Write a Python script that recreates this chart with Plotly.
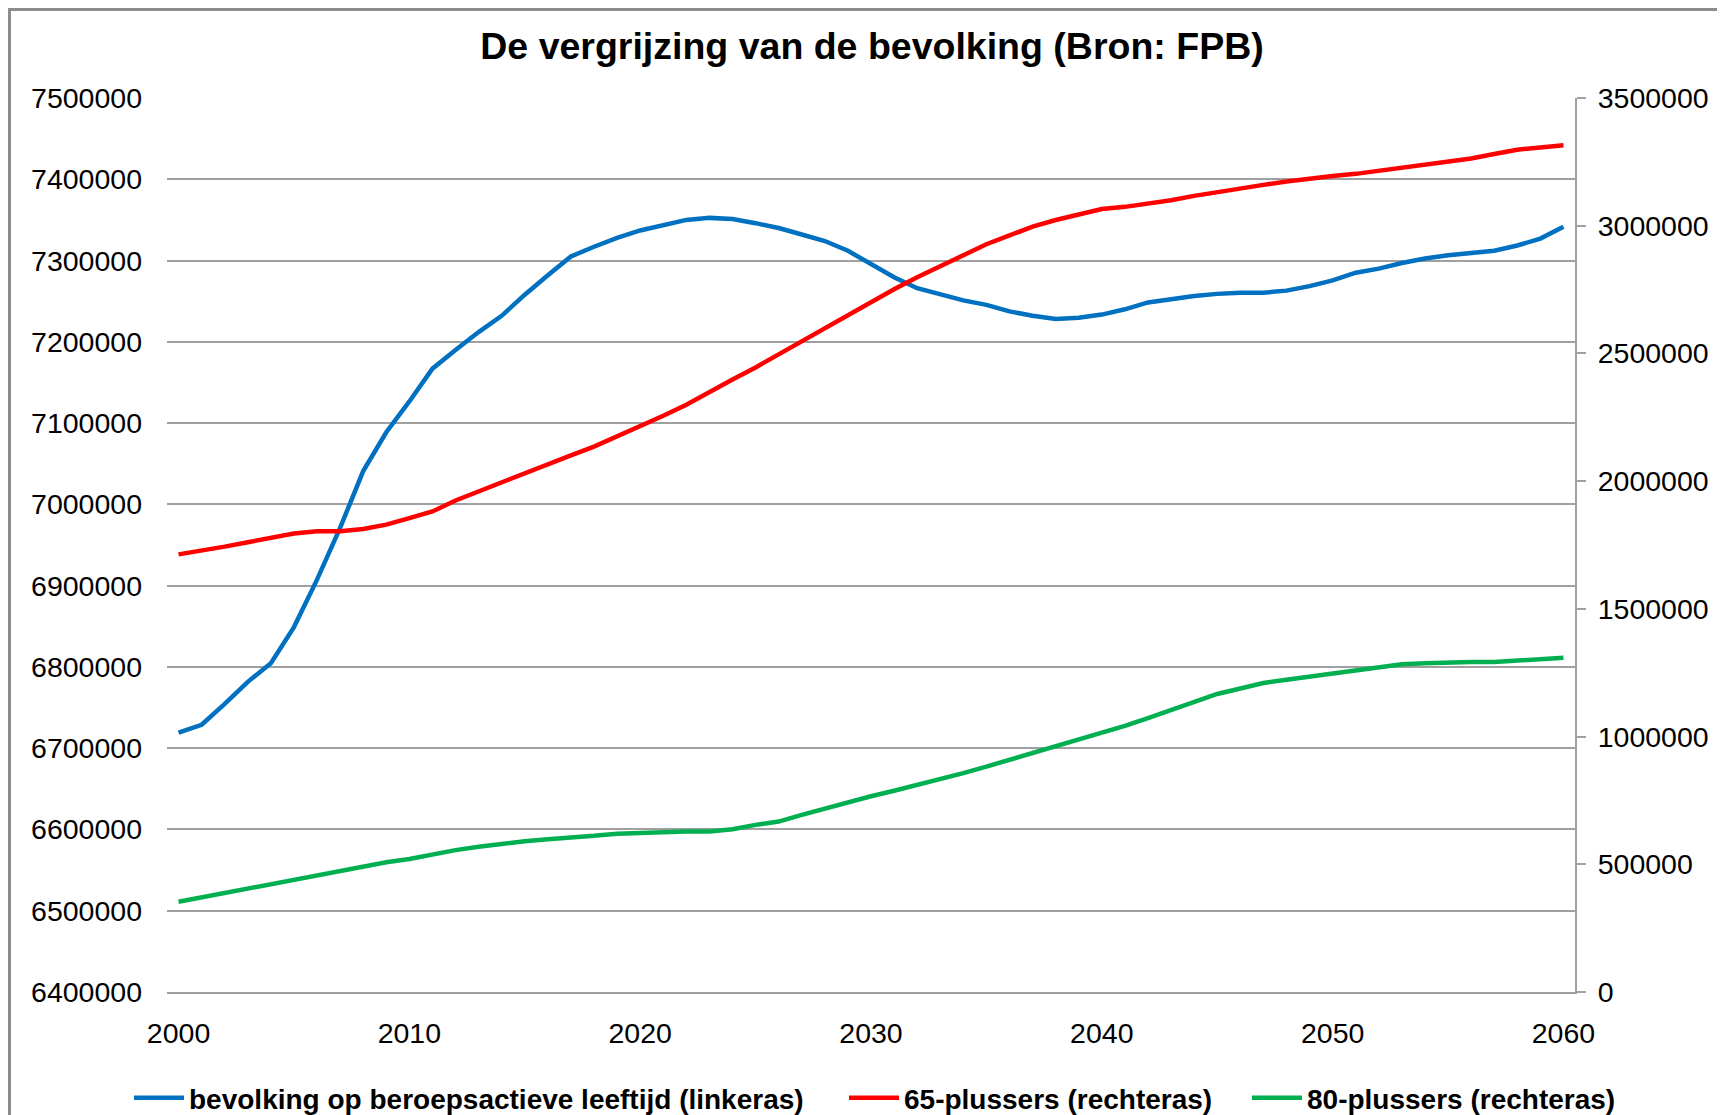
import plotly.graph_objects as go

years = list(range(2000, 2061))

beroepsactief = [
    6719000, 6728800, 6754500, 6781600, 6804600, 6849000, 6907400, 6971000, 7041000, 7088700,
    7126600, 7167000, 7190000, 7212000, 7232000, 7258000, 7282000, 7305000, 7317000, 7328000,
    7337000, 7344000, 7350000, 7352500, 7351000, 7346000, 7340000, 7332000, 7324000, 7312000,
    7296000, 7279500, 7266000, 7258000, 7251000, 7245500, 7237500, 7232000, 7228000, 7229500,
    7233500, 7240000, 7248500, 7252500, 7256500, 7259000, 7260500, 7260500, 7263000, 7268500,
    7275500, 7285000, 7290000, 7297000, 7302500, 7306500, 7309000, 7312000, 7318500, 7327000,
    7341500,
]

plus65 = [
    1713400, 1726300, 1743600, 1760800, 1778000, 1795300, 1803900, 1803900, 1812400, 1829700,
    1855500, 1881300, 1924400, 1958800, 1997600, 2032000, 2066400, 2100900, 2135300, 2174100,
    2212800, 2255800, 2298900, 2350500, 2397900, 2445300, 2496900, 2544300, 2595900, 2647600,
    2699300, 2750900, 2798300, 2841300, 2884400, 2927400, 2961900, 2996300, 3022200, 3043700,
    3065200, 3073800, 3086700, 3099600, 3116900, 3129800, 3142700, 3160000, 3172900, 3185700,
    3194400, 3203000, 3215900, 3224500, 3237400, 3250300, 3263200, 3280500, 3297700, 3306300,
    3315000,
]

plus80 = [
    353100, 370300, 391800, 409000, 421900, 443500, 460700, 477900, 490800, 508000,
    520900, 538200, 555400, 568300, 581200, 589800, 598400, 602700, 611300, 619900,
    624200, 628500, 628500, 628500, 637100, 654400, 667300, 693100, 718900, 744700,
    766300, 787800, 809300, 830800, 856700, 882500, 908300, 934200, 960000, 990200,
    1016000, 1041800, 1072000, 1102100, 1136600, 1166700, 1188300, 1209800, 1222700, 1235600,
    1248500, 1261500, 1274400, 1283000, 1287300, 1291600, 1291600, 1291600, 1295900, 1300200,
    1308800,
]

series_names = [
    "bevolking op beroepsactieve leeftijd (linkeras)",
    "65-plussers (rechteras)",
    "80-plussers (rechteras)",
]
series_colors = ["#0070C0", "#FF0000", "#00B050"]

x_ticks = [2000, 2010, 2020, 2030, 2040, 2050, 2060]
left_ticks = list(range(6400000, 7500001, 100000))
right_ticks = list(range(0, 3500001, 500000))

OFF = 8  # default page margin of the html body
W, H = 1725 - OFF, 1115 - OFF
ML, MR, MT, MB = 167 - OFF, 150, 98 - OFF, 123
FONT = "Liberation Sans, Arial, sans-serif"
GRID = "#A0A0A0"

# legend entry left edges (screen px) and vertical centre
legend_left = [134, 849, 1252]
legend_mid = 1098

fig = go.Figure()
axes = ["y", "y2", "y2"]
values = [beroepsactief, plus65, plus80]
legend_ids = ["legend", "legend2", "legend3"]
for name, col, ax, vals, lid in zip(series_names, series_colors, axes, values, legend_ids):
    fig.add_trace(go.Scatter(x=years, y=vals, name="<b>" + name + "</b>",
                             mode="lines", line=dict(color=col, width=4.5), yaxis=ax,
                             legend=lid))

pw = W - ML - MR
ph = H - MT - MB

legend_common = dict(orientation="h", xanchor="left", xref="container",
                     y=(H - (legend_mid - OFF)) / H, yref="container", yanchor="middle",
                     font=dict(size=28, family=FONT, color="black"),
                     itemwidth=50, bgcolor="rgba(0,0,0,0)", borderwidth=0)

fig.update_layout(
    width=W, height=H,
    margin=dict(l=ML, r=MR, t=MT, b=MB, pad=0),
    paper_bgcolor="white", plot_bgcolor="white",
    font=dict(family=FONT, color="black", size=28),
    title=dict(text="<b>De vergrijzing van de bevolking (Bron: FPB)</b>",
               x=(872 - OFF) / W, xanchor="center", xref="container",
               y=1 - (46 - OFF) / H, yanchor="middle",
               font=dict(size=37.5, family=FONT, color="black")),
    xaxis=dict(range=[1999.5, 2060.5], tickmode="array", tickvals=x_ticks,
               ticktext=[str(v) for v in x_ticks], showgrid=False, zeroline=False,
               showline=True, linecolor=GRID, linewidth=2, ticks="",
               ticklabelstandoff=15, tickfont=dict(size=28.5)),
    yaxis=dict(range=[6400000, 7500000], tickmode="array", tickvals=left_ticks,
               ticktext=[str(v) for v in left_ticks], showgrid=True, gridcolor=GRID,
               gridwidth=2, zeroline=False, showline=False, ticks="",
               ticklabelstandoff=24, tickfont=dict(size=28.5)),
    yaxis2=dict(range=[0, 3500000], overlaying="y", side="right", tickmode="array",
                tickvals=right_ticks, ticktext=[str(v) for v in right_ticks],
                showgrid=False, zeroline=False, showline=True, linecolor=GRID,
                linewidth=2, ticks="outside", ticklen=9, tickcolor=GRID, tickwidth=2,
                ticklabelstandoff=6, tickfont=dict(size=28.5)),
    legend=dict(legend_common, x=(legend_left[0] - OFF - 5) / W),
    legend2=dict(legend_common, x=(legend_left[1] - OFF - 5) / W),
    legend3=dict(legend_common, x=(legend_left[2] - OFF - 5) / W),
    showlegend=True,
)

# outer chart border
fig.add_shape(type="rect", xref="paper", yref="paper",
              x0=(1.5 - ML) / pw, x1=(W + 20 - ML) / pw,
              y0=-(H + 20 - MT - ph) / ph, y1=1 + (MT - 1.5) / ph,
              line=dict(color="#8C8C8C", width=3), fillcolor="rgba(0,0,0,0)", layer="below")

fig.write_html("out.html")
